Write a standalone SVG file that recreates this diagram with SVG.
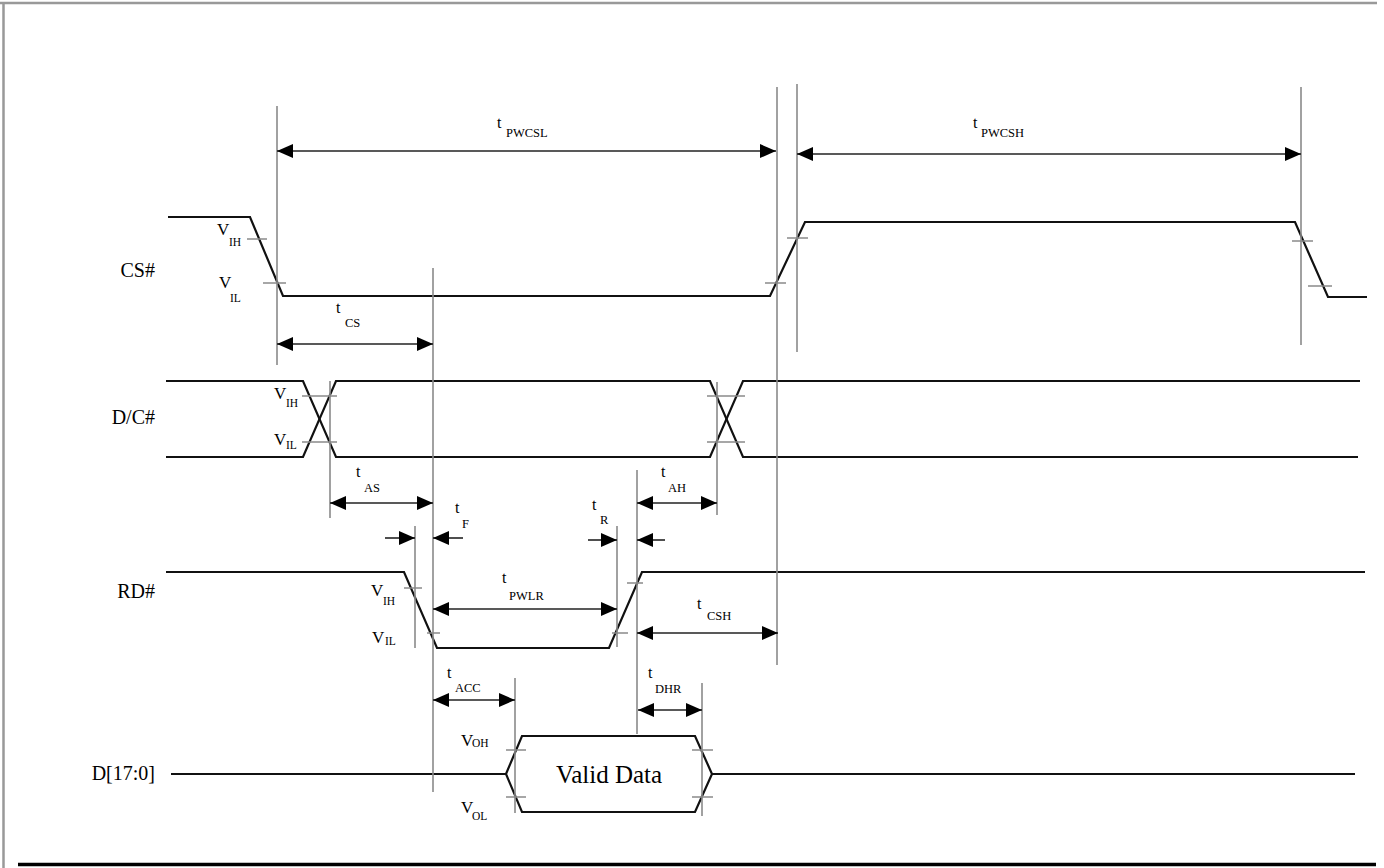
<svg xmlns="http://www.w3.org/2000/svg" width="1384" height="868" viewBox="0 0 1384 868">
<defs>
<marker id="ah" viewBox="0 0 16 14" refX="16" refY="7" markerWidth="16" markerHeight="14" markerUnits="userSpaceOnUse" orient="auto-start-reverse"><path d="M0,0 L16,7 L0,14 z" fill="#000"/></marker>
<style>
.w{fill:none;stroke:#111;stroke-width:2.2;stroke-linejoin:miter}
.g{stroke:#8a8a8a;stroke-width:1.6;fill:none}
.tk{stroke:#8a8a8a;stroke-width:1.5}
.a2{stroke:#222;stroke-width:1.6;fill:none;marker-start:url(#ah);marker-end:url(#ah)}
.a1{stroke:#222;stroke-width:1.6;fill:none;marker-end:url(#ah)}
.lbl{font-family:"Liberation Serif","Times New Roman",serif;font-size:20px;fill:#000}
.t{font-family:"Liberation Serif","Times New Roman",serif;font-size:16px;fill:#000}
.s{font-family:"Liberation Serif","Times New Roman",serif;font-size:12.5px;fill:#000}
.v{font-family:"Liberation Serif","Times New Roman",serif;font-size:17px;fill:#000}
.vs{font-family:"Liberation Serif","Times New Roman",serif;font-size:11.5px;fill:#000}
</style>
</defs>
<rect width="1384" height="868" fill="#fff"/>
<g id="frame">
<line x1="0" y1="3" x2="1377" y2="3" stroke="#999" stroke-width="2.5"/>
<line x1="3.5" y1="3" x2="3.5" y2="868" stroke="#999" stroke-width="2.5"/>
<line x1="18" y1="864.5" x2="1376" y2="864.5" stroke="#000" stroke-width="3.5"/>
</g>
<g id="signal-labels">
<text class="lbl" x="155" y="277" text-anchor="end">CS#</text>
<text class="lbl" x="155" y="424" text-anchor="end">D/C#</text>
<text class="lbl" x="155" y="598" text-anchor="end">RD#</text>
<text class="lbl" x="155" y="780" text-anchor="end">D[17:0]</text>
</g>
<g id="cs">
<polyline class="w" points="168,217 250,217 283,296 770,296 805,222 1295,222 1328,297 1367,297"/>
<line class="tk" x1="247" y1="239" x2="267" y2="239"/>
<line class="tk" x1="263" y1="283" x2="286" y2="283"/>
<line class="tk" x1="765" y1="283" x2="786" y2="283"/>
<line class="tk" x1="787" y1="238" x2="808" y2="238"/>
<line class="tk" x1="1292" y1="241" x2="1313" y2="241"/>
<line class="tk" x1="1308" y1="286" x2="1332" y2="286"/>
<text class="v" x="217" y="235">V</text><text class="vs" x="229" y="246">IH</text>
<text class="v" x="219" y="288">V</text><text class="vs" x="230" y="302">IL</text>
</g>
<g id="dc">
<polyline class="w" points="166,381 303,381 336,457 710,457 743,381 1360,381"/>
<polyline class="w" points="166,457 303,457 336,381 710,381 743,457 1358,457"/>
<line class="tk" x1="302" y1="396" x2="337" y2="396"/>
<line class="tk" x1="302" y1="442" x2="337" y2="442"/>
<line class="tk" x1="707" y1="396" x2="745" y2="396"/>
<line class="tk" x1="707" y1="442" x2="745" y2="442"/>
<text class="v" x="274" y="399">V</text><text class="vs" x="286" y="407">IH</text>
<text class="v" x="274" y="445">V</text><text class="vs" x="286" y="449">IL</text>
</g>
<g id="rd">
<polyline class="w" points="166,572 404,572 437,648 609,648 642,572 1365,572"/>
<line class="tk" x1="404" y1="588" x2="422" y2="588"/>
<line class="tk" x1="427" y1="633" x2="440" y2="633"/>
<line class="tk" x1="627" y1="583" x2="643" y2="583"/>
<line class="tk" x1="612" y1="633" x2="628" y2="633"/>
<text class="v" x="371" y="596">V</text><text class="vs" x="383" y="605">IH</text>
<text class="v" x="372" y="643">V</text><text class="vs" x="385" y="645">IL</text>
</g>
<g id="data">
<line class="w" x1="171" y1="774" x2="506" y2="774"/>
<polygon class="w" points="506,774 522,736 695,736 712,774 695,812 522,812"/>
<line class="w" x1="712" y1="774" x2="1355" y2="774"/>
<line class="tk" x1="506" y1="750" x2="526" y2="750"/>
<line class="tk" x1="506" y1="797" x2="526" y2="797"/>
<line class="tk" x1="692" y1="750" x2="713" y2="750"/>
<line class="tk" x1="692" y1="797" x2="713" y2="797"/>
<text class="lbl" x="609" y="783" text-anchor="middle" style="font-size:25px">Valid Data</text>
<text class="v" x="461" y="746">V</text><text class="vs" x="472" y="747">OH</text>
<text class="v" x="461" y="813">V</text><text class="vs" x="472" y="820">OL</text>
</g>
<g id="guides">
<line class="g" x1="277" y1="106" x2="277" y2="365"/>
<line class="g" x1="777" y1="87" x2="777" y2="665"/>
<line class="g" x1="797" y1="84" x2="797" y2="352"/>
<line class="g" x1="1301" y1="87" x2="1301" y2="345"/>
<line class="g" x1="433" y1="268" x2="433" y2="792"/>
<line class="g" x1="330" y1="381" x2="330" y2="518"/>
<line class="g" x1="717" y1="382" x2="717" y2="515"/>
<line class="g" x1="637" y1="470" x2="637" y2="734"/>
<line class="g" x1="415" y1="526" x2="415" y2="648"/>
<line class="g" x1="617" y1="526" x2="617" y2="647"/>
<line class="g" x1="515" y1="678" x2="515" y2="813"/>
<line class="g" x1="702" y1="683" x2="702" y2="816"/>
</g>
<g id="connectors">
<line class="a2" x1="277" y1="151" x2="776" y2="151"/>
<line class="a2" x1="797" y1="154" x2="1301" y2="154"/>
<line class="a2" x1="277" y1="344" x2="433" y2="344"/>
<line class="a2" x1="330" y1="503" x2="433" y2="503"/>
<line class="a2" x1="637" y1="503" x2="717" y2="503"/>
<line class="a1" x1="385" y1="538" x2="415" y2="538"/>
<line class="a1" x1="463" y1="538" x2="433" y2="538"/>
<line class="a1" x1="588" y1="540" x2="617" y2="540"/>
<line class="a1" x1="665" y1="540" x2="637" y2="540"/>
<line class="a2" x1="433" y1="609" x2="617" y2="609"/>
<line class="a2" x1="637" y1="633" x2="778" y2="633"/>
<line class="a2" x1="433" y1="700" x2="515" y2="700"/>
<line class="a2" x1="638" y1="710" x2="702" y2="710"/>
</g>
<g id="timing-labels">
<text class="t" x="497" y="128">t</text><text class="s" x="506" y="137">PWCSL</text>
<text class="t" x="973" y="128">t</text><text class="s" x="981" y="137">PWCSH</text>
<text class="t" x="336" y="313">t</text><text class="s" x="345" y="327">CS</text>
<text class="t" x="356" y="477">t</text><text class="s" x="364" y="492">AS</text>
<text class="t" x="455" y="513">t</text><text class="s" x="462" y="528">F</text>
<text class="t" x="661" y="477">t</text><text class="s" x="668" y="492">AH</text>
<text class="t" x="592" y="510">t</text><text class="s" x="600" y="524">R</text>
<text class="t" x="502" y="583">t</text><text class="s" x="509" y="600">PWLR</text>
<text class="t" x="697" y="609">t</text><text class="s" x="707" y="620">CSH</text>
<text class="t" x="447" y="678">t</text><text class="s" x="455" y="692">ACC</text>
<text class="t" x="648" y="678">t</text><text class="s" x="655" y="693">DHR</text>
</g>
</svg>
